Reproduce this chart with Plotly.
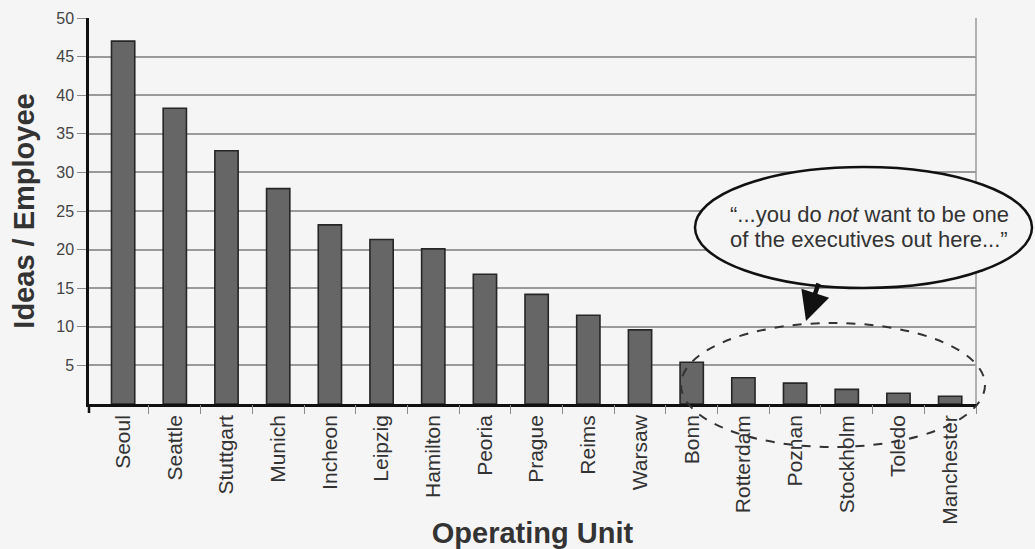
import plotly.graph_objects as go

# ---- data ----
units = ["Seoul", "Seattle", "Stuttgart", "Munich", "Incheon", "Leipzig", "Hamilton",
         "Peoria", "Prague", "Reims", "Warsaw", "Bonn", "Rotterdam", "Poznan",
         "Stockholm", "Toledo", "Manchester"]
ideas_per_employee = [47.0, 38.3, 32.8, 27.9, 23.2, 21.3, 20.1, 16.8, 14.2, 11.5, 9.6,
                      5.4, 3.4, 2.7, 1.9, 1.4, 1.0]
y_ticks = [5, 10, 15, 20, 25, 30, 35, 40, 45, 50]

# ---- layout geometry (pixels) ----
W, H = 1035, 549
L, R, T, B = 89, 59, 18, 145
PW, PH = W - L - R, H - T - B
BG = "#f6f5f6"
FONT = "Liberation Sans, Arial, sans-serif"


def px(x):
    return (x - L) / PW


def py(y):
    return (H - B - y) / PH


n = len(units)
x_range = [-0.66, n - 0.5]

fig = go.Figure()
fig.add_trace(go.Bar(
    x=units, y=ideas_per_employee, width=0.45,
    marker=dict(color="#666666", line=dict(color="#262626", width=1.6)),
    hoverinfo="x+y", showlegend=False,
))
# invisible helper trace for the boundary-tick axis
fig.add_trace(go.Scatter(x=[0], y=[0], xaxis="x2", mode="markers",
                         marker=dict(opacity=0), hoverinfo="skip", showlegend=False))

fig.update_layout(
    width=W, height=H,
    margin=dict(l=L, r=R, t=T, b=B, autoexpand=False),
    paper_bgcolor=BG, plot_bgcolor=BG,
    font=dict(family=FONT, color="#333333"),
    bargap=0.5,
    xaxis=dict(
        type="category", range=x_range, categoryorder="array", categoryarray=units,
        tickangle=-90, tickfont=dict(size=21, color="#333333"), ticks="",
        showgrid=False, zeroline=False,
        showline=True, linecolor="#111111", linewidth=2.5,
        title=dict(text="<b>Operating Unit</b>", font=dict(size=29, color="#333333"),
                   standoff=2),
        automargin=False,
    ),
    xaxis2=dict(
        overlaying="x", range=x_range, side="bottom",
        tickvals=[i + 0.5 for i in range(n)], showticklabels=False,
        ticks="outside", ticklen=9, tickcolor="#8a8a8a", tickwidth=1.2,
        showgrid=False, zeroline=False, showline=False,
    ),
    yaxis=dict(
        range=[0, 50], tickvals=y_ticks, ticktext=[str(v) for v in y_ticks],
        ticks="outside", ticklen=9, tickcolor="#8a8a8a", tickwidth=1.2,
        tickfont=dict(size=16, color="#444444"),
        showgrid=True, gridcolor="#9a9a9a", gridwidth=1.5,
        zeroline=False, showline=True, linecolor="#111111", linewidth=2.5,
        title=dict(text="<b>Ideas / Employee</b>", font=dict(size=29, color="#333333"),
                   standoff=14),
        automargin=False,
    ),
)

shapes = [
    # right border of plot
    dict(type="line", xref="paper", yref="paper", x0=1, x1=1, y0=0, y1=1,
         line=dict(color="#9a9a9a", width=1.5), layer="below"),
    # y axis line extension below baseline
    dict(type="line", xref="paper", yref="paper", x0=0, x1=0, y0=0, y1=py(413),
         line=dict(color="#111111", width=2.5)),
    # callout ellipse
    dict(type="circle", xref="paper", yref="paper",
         x0=px(695), x1=px(1032), y0=py(288), y1=py(167),
         fillcolor=BG, line=dict(color="#111111", width=2.5), layer="above"),
    # dashed ellipse around laggards
    dict(type="circle", xref="paper", yref="paper",
         x0=px(681), x1=px(985), y0=py(447), y1=py(323),
         line=dict(color="#333333", width=2, dash="dash"), layer="above"),
]
fig.update_layout(shapes=shapes)

fig.add_annotation(xref="paper", yref="paper", x=px(869), y=py(214),
                   text="\u201c...you do <i>not</i> want to be one",
                   showarrow=False, font=dict(size=22, color="#333333"),
                   xanchor="center", yanchor="middle")
fig.add_annotation(xref="paper", yref="paper", x=px(869), y=py(239),
                   text="of the executives out here...\u201d",
                   showarrow=False, font=dict(size=22, color="#333333"),
                   xanchor="center", yanchor="middle")
# arrow from callout to dashed ellipse
fig.add_annotation(xref="paper", yref="paper", x=px(806), y=py(321),
                   ax=13, ay=-39, axref="pixel", ayref="pixel",
                   text="", showarrow=True, arrowhead=2, arrowsize=1.3,
                   arrowwidth=4.5, arrowcolor="#111111")

fig.write_html("out.html")
